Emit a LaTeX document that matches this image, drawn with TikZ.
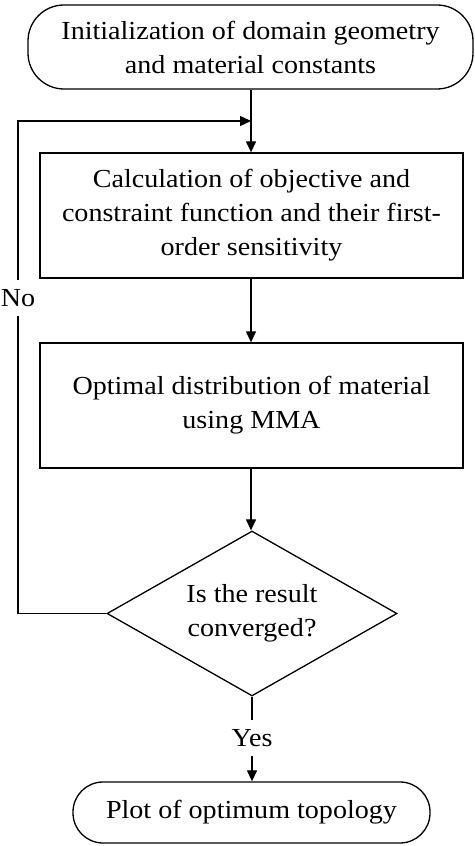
\documentclass[tikz,border=0pt]{standalone}
\usepackage{fontspec}
\setmainfont{Liberation Serif}[FakeStretch=1.08]
\usetikzlibrary{shapes.geometric,arrows.meta,calc}
\begin{document}
\begin{tikzpicture}[x=1pt,y=1pt,
  every node/.style={font=\fontsize{26}{34}\selectfont, align=center, inner sep=0pt},
  box/.style={draw, line width=1.3pt, minimum width=423pt, minimum height=125pt},
  term/.style={draw, line width=1.3pt, rounded corners=36pt},
  decision/.style={draw, line width=1.3pt, diamond, aspect=1.76, minimum width=290pt, minimum height=165pt},
  conn/.style={line width=1.3pt, -{Triangle[length=11pt,width=10pt]}},
  lbl/.style={fill=white, inner xsep=3pt, inner ysep=9pt}]
\useasboundingbox (0,0) rectangle (474,846);
\node[term, minimum width=445pt, minimum height=84pt] (init) at (250.5,799) {Initialization of domain geometry\\and material constants};
\node[box] (calc) at (251.5,630.5) {Calculation of objective and\\constraint function and their first-\\order sensitivity};
\node[box] (opt) at (251.5,440.5) {Optimal distribution of material\\using MMA};
\node[decision] (conv) at (252,232.5) {Is the result\\converged?};
\node[term, rounded corners=30pt, minimum width=357pt, minimum height=61pt] (plot) at (251.5,33.5) {Plot of optimum topology};
\coordinate (join) at (251,725);
\coordinate (corner) at (18,725);
\draw[conn] (init.south -| join) -- (calc.north -| join);
\draw[conn] (calc.south -| join) -- (opt.north -| join);
\draw[conn] (opt.south -| join) -- (conv.north -| join);
\draw[conn] (conv.west) -| (corner) -- (join);
\node[lbl] (no) at (18,548) {No};
\draw[conn] (conv.south) -- (plot.north -| conv.south);
\node[lbl] (yes) at (252,108) {Yes};
\end{tikzpicture}
\end{document}
